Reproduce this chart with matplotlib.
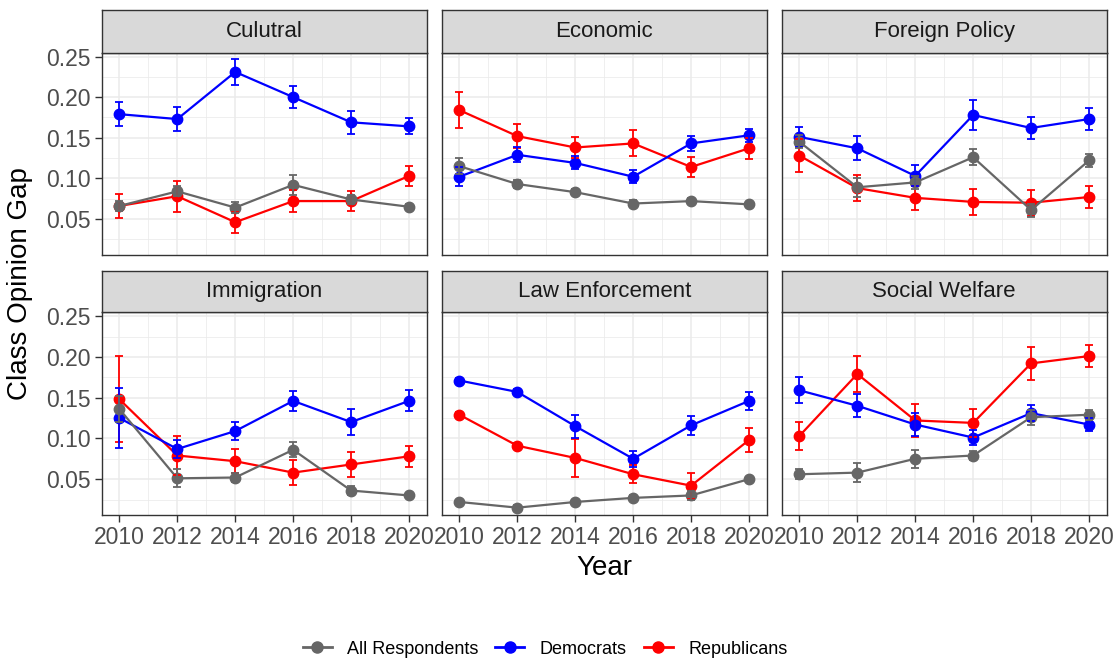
import matplotlib
matplotlib.use("Agg")
import matplotlib.pyplot as plt
from matplotlib.lines import Line2D
import numpy as np

plt.rcParams['font.family'] = ['Liberation Sans', 'DejaVu Sans']

years = [2010, 2012, 2014, 2016, 2018, 2020]
panels = ["Culutral", "Economic", "Foreign Policy", "Immigration", "Law Enforcement", "Social Welfare"]
groups = ["All Respondents", "Democrats", "Republicans"]
colors = {"All Respondents": "#666666", "Democrats": "#0000FF", "Republicans": "#FF0000"}

cultural_all = [0.066, 0.084, 0.064, 0.092, 0.074, 0.065]
cultural_all_err = [0.006, 0.006, 0.007, 0.012, 0.005, 0.003]
cultural_dem = [0.179, 0.173, 0.231, 0.200, 0.169, 0.164]
cultural_dem_err = [0.015, 0.015, 0.016, 0.014, 0.014, 0.010]
cultural_rep = [0.066, 0.078, 0.046, 0.072, 0.072, 0.103]
cultural_rep_err = [0.015, 0.019, 0.013, 0.014, 0.012, 0.012]

economic_all = [0.115, 0.093, 0.083, 0.069, 0.072, 0.068]
economic_all_err = [0.010, 0.005, 0.004, 0.004, 0.004, 0.003]
economic_dem = [0.102, 0.129, 0.119, 0.102, 0.143, 0.153]
economic_dem_err = [0.012, 0.009, 0.008, 0.008, 0.009, 0.008]
economic_rep = [0.184, 0.152, 0.138, 0.143, 0.114, 0.137]
economic_rep_err = [0.022, 0.015, 0.013, 0.016, 0.012, 0.013]

foreign_all = [0.145, 0.089, 0.095, 0.126, 0.061, 0.122]
foreign_all_err = [0.008, 0.012, 0.008, 0.010, 0.008, 0.008]
foreign_dem = [0.151, 0.137, 0.103, 0.178, 0.162, 0.173]
foreign_dem_err = [0.012, 0.015, 0.013, 0.018, 0.013, 0.013]
foreign_rep = [0.128, 0.088, 0.076, 0.071, 0.070, 0.077]
foreign_rep_err = [0.020, 0.016, 0.015, 0.016, 0.016, 0.013]

immigration_all = [0.136, 0.051, 0.052, 0.086, 0.036, 0.030]
immigration_all_err = [0.016, 0.011, 0.006, 0.009, 0.005, 0.003]
immigration_dem = [0.125, 0.087, 0.109, 0.146, 0.120, 0.146]
immigration_dem_err = [0.037, 0.011, 0.011, 0.012, 0.016, 0.013]
immigration_rep = [0.148, 0.079, 0.072, 0.058, 0.068, 0.078]
immigration_rep_err = [0.053, 0.024, 0.015, 0.015, 0.015, 0.013]

law_all = [0.022, 0.015, 0.022, 0.027, 0.030, 0.050]
law_all_err = [0.003, 0.003, 0.003, 0.003, 0.006, 0.003]
law_dem = [0.171, 0.157, 0.115, 0.075, 0.116, 0.146]
law_dem_err = [0.003, 0.003, 0.014, 0.010, 0.012, 0.011]
law_rep = [0.129, 0.091, 0.076, 0.056, 0.042, 0.098]
law_rep_err = [0.003, 0.003, 0.023, 0.011, 0.016, 0.015]

social_all = [0.056, 0.058, 0.075, 0.079, 0.126, 0.129]
social_all_err = [0.006, 0.012, 0.011, 0.006, 0.009, 0.006]
social_dem = [0.159, 0.140, 0.117, 0.101, 0.131, 0.117]
social_dem_err = [0.016, 0.014, 0.014, 0.009, 0.010, 0.008]
social_rep = [0.103, 0.179, 0.122, 0.119, 0.192, 0.201]
social_rep_err = [0.017, 0.022, 0.020, 0.017, 0.020, 0.014]

data = {
    "Culutral": {"All Respondents": (cultural_all, cultural_all_err), "Democrats": (cultural_dem, cultural_dem_err), "Republicans": (cultural_rep, cultural_rep_err)},
    "Economic": {"All Respondents": (economic_all, economic_all_err), "Democrats": (economic_dem, economic_dem_err), "Republicans": (economic_rep, economic_rep_err)},
    "Foreign Policy": {"All Respondents": (foreign_all, foreign_all_err), "Democrats": (foreign_dem, foreign_dem_err), "Republicans": (foreign_rep, foreign_rep_err)},
    "Immigration": {"All Respondents": (immigration_all, immigration_all_err), "Democrats": (immigration_dem, immigration_dem_err), "Republicans": (immigration_rep, immigration_rep_err)},
    "Law Enforcement": {"All Respondents": (law_all, law_all_err), "Democrats": (law_dem, law_dem_err), "Republicans": (law_rep, law_rep_err)},
    "Social Welfare": {"All Respondents": (social_all, social_all_err), "Democrats": (social_dem, social_dem_err), "Republicans": (social_rep, social_rep_err)},
}

W, H = 1117, 662
fig = plt.figure(figsize=(W / 100, H / 100), dpi=100)
fig.patch.set_facecolor("white")

col_x = [(101.7, 426.7), (441.7, 766.7), (781.7, 1106.7)]
rows = [((10.0, 52.7), (52.7, 254.7)), ((270.7, 312.3), (312.3, 515.0))]

def fax(x0, x1, y0, y1):
    return [x0 / W, 1 - y1 / H, (x1 - x0) / W, (y1 - y0) / H]

border = "#333333"
draw_order = ["Republicans", "Democrats", "All Respondents"]

for i, name in enumerate(panels):
    r, c = divmod(i, 3)
    (sy0, sy1), (py0, py1) = rows[r]
    x0, x1 = col_x[c]
    ax = fig.add_axes(fax(x0, x1, py0, py1))
    ax.set_xlim(2009.39, 2020.61)
    ax.set_ylim(0.006, 0.2547)
    ax.set_xticks(years)
    ax.set_xticks([2011, 2013, 2015, 2017, 2019], minor=True)
    ax.set_yticks([0.05, 0.10, 0.15, 0.20, 0.25])
    ax.set_yticks([0.025, 0.075, 0.125, 0.175, 0.225], minor=True)
    ax.grid(which="major", color="#EBEBEB", lw=1.1, zorder=0)
    ax.grid(which="minor", color="#EBEBEB", lw=0.55, zorder=0)
    ax.set_axisbelow(True)
    for s in ax.spines.values():
        s.set_color(border)
        s.set_linewidth(1.0)
        s.set_zorder(10)
    ax.tick_params(which="minor", length=0)
    ax.tick_params(which="major", length=5, width=1.0, color=border,
                   labelsize=16.5, labelcolor="#4D4D4D", pad=3)
    if c == 0:
        ax.set_yticklabels(["0.05", "0.10", "0.15", "0.20", "0.25"])
    else:
        ax.tick_params(axis="y", which="major", length=0, labelleft=False)
    if r == 1:
        ax.set_xticklabels([str(y) for y in years])
    else:
        ax.tick_params(axis="x", which="major", length=0, labelbottom=False)

    for g in draw_order:
        vals, errs = data[name][g]
        ax.plot(years, vals, color=colors[g], lw=1.6, marker="o", ms=7.5,
                zorder=3, solid_capstyle="butt")
    for g in draw_order:
        vals, errs = data[name][g]
        ax.errorbar(years, vals, yerr=errs, fmt="none", ecolor=colors[g],
                    elinewidth=1.3, capsize=2.6, capthick=1.3, zorder=4)

    sax = fig.add_axes(fax(x0, x1, sy0, sy1))
    sax.set_xlim(0, 1)
    sax.set_ylim(0, 1)
    sax.set_xticks([])
    sax.set_yticks([])
    sax.set_facecolor("#D9D9D9")
    for s in sax.spines.values():
        s.set_color(border)
        s.set_linewidth(1.0)
    sax.text(0.5, 0.5, name, ha="center", va="center", fontsize=16, color="#1A1A1A")

fig.text(604 / W, 1 - 568 / H, "Year", ha="center", va="center", fontsize=20, color="black")
fig.text(20 / W, 1 - 284 / H, "Class Opinion Gap", ha="center", va="center",
         rotation=90, fontsize=20, color="black")

handles = [Line2D([0], [0], color=colors[g], lw=2.0, marker="o", ms=8) for g in groups]
fig.legend(handles, groups, loc="center", bbox_to_anchor=(545 / W, 1 - 649 / H),
           ncol=3, frameon=False, fontsize=13, handlelength=1.6, handletextpad=0.85,
           columnspacing=0.95)

fig.savefig("out.png", dpi=100)
